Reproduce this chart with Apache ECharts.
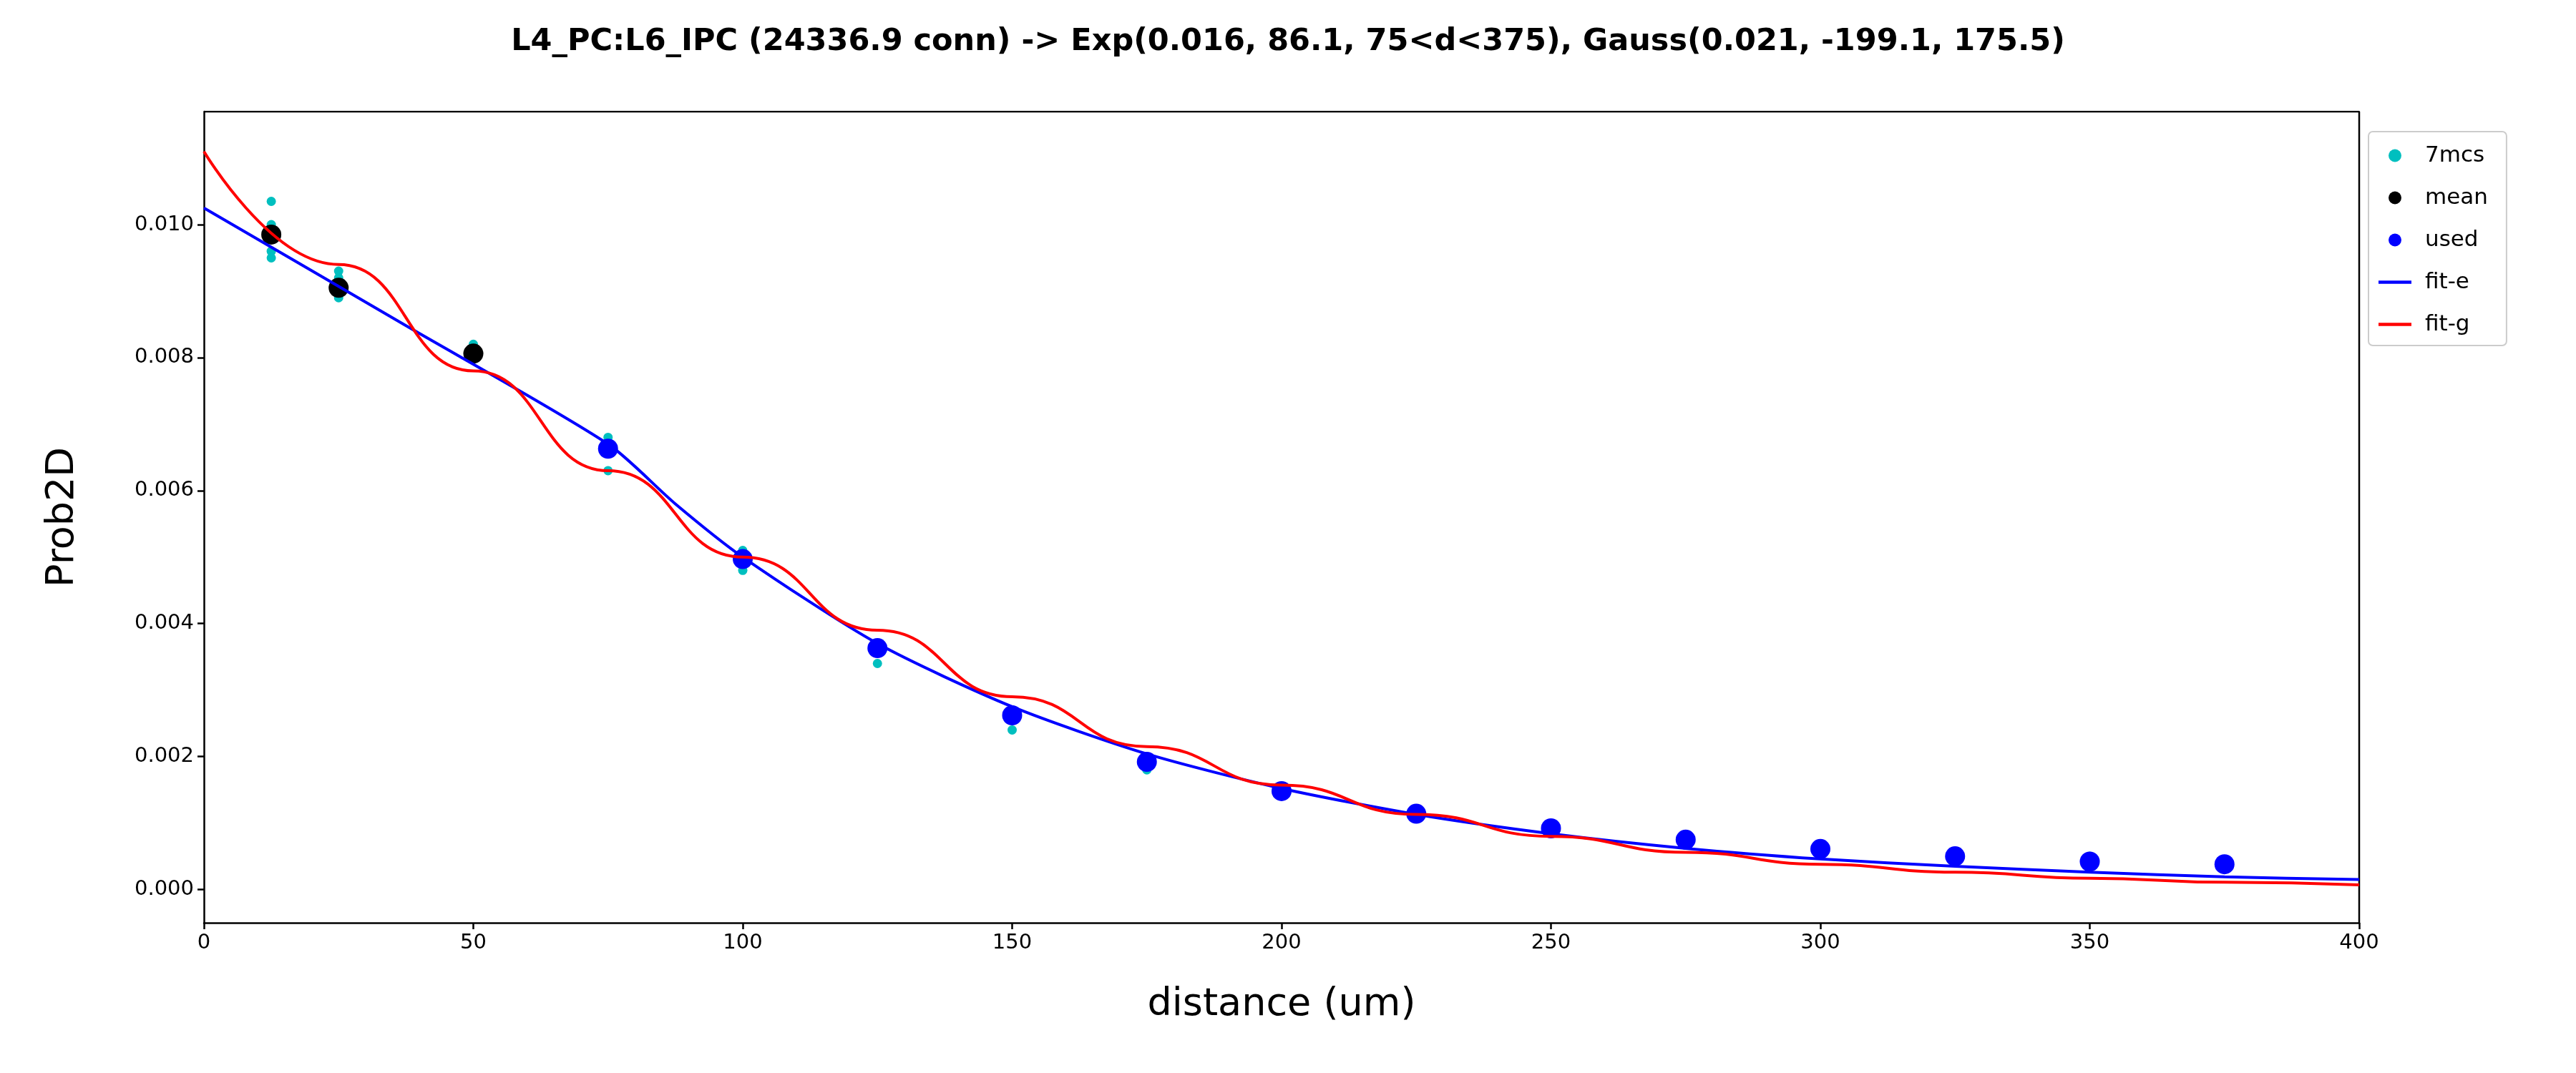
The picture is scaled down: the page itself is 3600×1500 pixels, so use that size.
<!DOCTYPE html>
<html>
<head>
<meta charset="utf-8">
<script src="https://cdn.jsdelivr.net/npm/echarts@6/dist/echarts.min.js"></script>
<style>html,body{margin:0;padding:0;background:#fff}#chart{width:3600px;height:1500px}</style>
</head>
<body>
<div id="chart"></div>
<script>
// raw points per distance
const mcsData = [
  [12.5, 0.01035], [12.5, 0.0100], [12.5, 0.0096], [12.5, 0.0095],
  [25, 0.0093], [25, 0.0092], [25, 0.0089],
  [50, 0.0082], [50, 0.0080],
  [75, 0.0068], [75, 0.0067], [75, 0.0063],
  [100, 0.0051], [100, 0.0048],
  [125, 0.0037], [125, 0.0034],
  [150, 0.0027], [150, 0.0024],
  [175, 0.0019], [175, 0.0018],
  [200, 0.0015], [225, 0.00113], [250, 0.0009], [350, 0.0005]
];
const meanData = [[12.5, 0.00985], [25, 0.00905], [50, 0.00806]];
const usedData = [
  [75, 0.00663], [100, 0.00497], [125, 0.00363], [150, 0.00262], [175, 0.00192],
  [200, 0.00148], [225, 0.00114], [250, 0.00092], [275, 0.00075], [300, 0.00061],
  [325, 0.00050], [350, 0.00042], [375, 0.00038]
];
const fitE = [
  [0, 0.01025], [37.5, 0.00848], [75, 0.0067], [87.5, 0.0058], [100, 0.0050],
  [125, 0.0037], [150, 0.00275], [175, 0.00204], [200, 0.00152], [225, 0.00113],
  [250, 0.00084], [275, 0.00062], [300, 0.00046], [325, 0.00035], [350, 0.00026],
  [375, 0.00019], [400, 0.00015]
];
const fitG = [
  [0, 0.0111], [25, 0.0094], [50, 0.0078], [75, 0.0063], [100, 0.0050],
  [125, 0.0039], [150, 0.0029], [175, 0.00215], [200, 0.00157], [225, 0.00113],
  [250, 0.0008], [275, 0.00056], [300, 0.00038], [325, 0.00026], [350, 0.00017],
  [375, 0.00011], [400, 0.00007]
];
const yTicks = [0, 0.002, 0.004, 0.006, 0.008, 0.010];
const xTicks = [0, 50, 100, 150, 200, 250, 300, 350, 400];

const font = 'DejaVu Sans';
const chart = echarts.init(document.getElementById('chart'));
chart.setOption({
  backgroundColor: '#fff',
  animation: false,
  textStyle: { fontFamily: font },
  title: {
    text: 'L4_PC:L6_IPC (24336.9 conn) -> Exp(0.016, 86.1, 75<d<375), Gauss(0.021, -199.1, 175.5)',
    left: 'center', top: 32,
    textStyle: { fontSize: 43, fontWeight: 'bold', color: '#000', fontFamily: font }
  },
  grid: { left: 285, right: 303, top: 156, bottom: 210 },
  legend: {
    orient: 'vertical', left: 3310, top: 184,
    padding: [18, 26, 14, 14], itemGap: 28,
    itemWidth: 46, itemHeight: 18,
    borderColor: '#ccc', borderWidth: 2, borderRadius: 6,
    textStyle: { fontSize: 31, color: '#000', fontFamily: font, padding: [0, 0, 0, 14] },
    data: [
      { name: '7mcs', icon: 'circle', itemStyle: { color: '#00bfbf' } },
      { name: 'mean', icon: 'circle' },
      { name: 'used', icon: 'circle' },
      { name: 'fit-e', icon: 'path://M0,0 L10,0 L10,1 L0,1 Z' },
      { name: 'fit-g', icon: 'path://M0,0 L10,0 L10,1 L0,1 Z' }
    ]
  },
  xAxis: {
    type: 'value', min: 0, max: 400, interval: 50,
    name: 'distance (um)', nameLocation: 'middle', nameGap: 88,
    nameTextStyle: { fontSize: 54, color: '#000', fontFamily: font },
    axisLine: { onZero: false, lineStyle: { color: '#000', width: 2.5 } },
    axisTick: { show: true, length: 9, lineStyle: { color: '#000', width: 2.5 } },
    axisLabel: { fontSize: 29, color: '#000', margin: 14, fontFamily: font,
      customValues: xTicks },
    splitLine: { show: false }
  },
  yAxis: {
    type: 'value', min: -0.0005, max: 0.0117,
    name: 'Prob2D', nameLocation: 'middle', nameGap: 170,
    nameTextStyle: { fontSize: 54, color: '#000', fontFamily: font },
    axisLine: { show: true, onZero: false, lineStyle: { color: '#000', width: 2.5 } },
    axisTick: { show: true, length: 9, customValues: yTicks, lineStyle: { color: '#000', width: 2.5 } },
    axisLabel: { fontSize: 29, color: '#000', margin: 14, fontFamily: font,
      customValues: yTicks, formatter: v => v.toFixed(3) },
    splitLine: { show: false }
  },
  series: [
    { name: '7mcs', type: 'scatter', data: mcsData, symbolSize: 13,
      itemStyle: { color: '#00bfbf', opacity: 1 }, z: 2 },
    { name: 'mean', type: 'scatter', data: meanData, symbolSize: 28,
      itemStyle: { color: '#000', opacity: 1 }, z: 3 },
    { name: 'used', type: 'scatter', data: usedData, symbolSize: 28,
      itemStyle: { color: '#0000ff', opacity: 1 }, z: 3 },
    { name: 'fit-e', type: 'line', data: fitE, smooth: 0.25, showSymbol: false,
      lineStyle: { color: '#0000ff', width: 4 }, itemStyle: { color: '#0000ff' }, z: 4 },
    { name: 'fit-g', type: 'line', data: fitG, smooth: 0.5, smoothMonotone: 'x', showSymbol: false,
      lineStyle: { color: '#ff0000', width: 4 }, itemStyle: { color: '#ff0000' }, z: 5 },
    // right and top frame
    { type: 'line', data: [[400, -0.0005], [400, 0.0117], [0, 0.0117]], silent: true,
      showSymbol: false, lineStyle: { color: '#000', width: 2.5 }, z: 1, tooltip: { show: false } }
  ]
});
</script>
</body>
</html>
